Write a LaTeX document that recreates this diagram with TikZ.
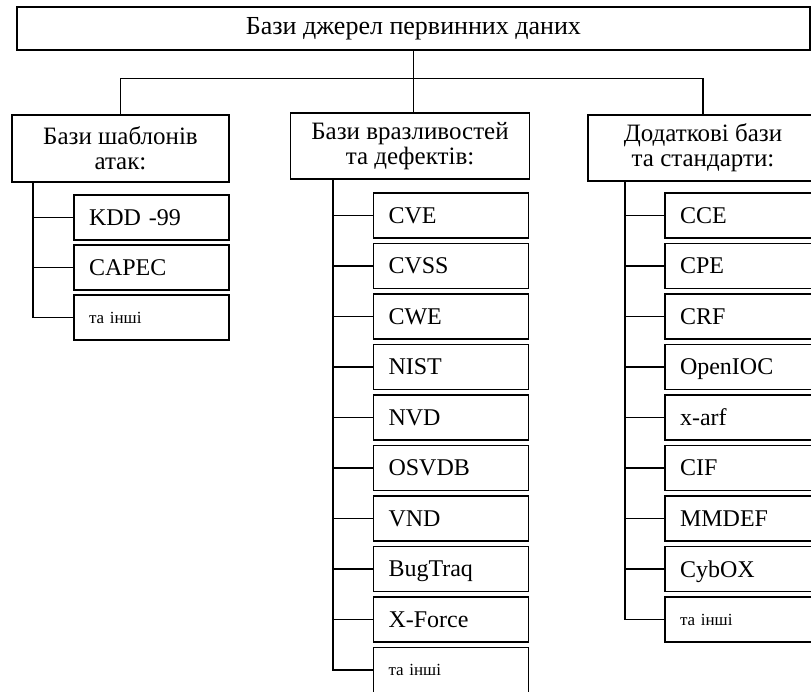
\documentclass[tikz,border=0pt]{standalone}
\usepackage{fontspec}
\setmainfont{Liberation Serif}
\usetikzlibrary{positioning}

\tikzset{
  base/.style={draw, line width=1.2pt, inner sep=0pt},
  hdr/.style={base, minimum height=66pt, align=center, font=\fontsize{25}{25}\selectfont},
  item/.style={base, minimum height=45pt, inner xsep=15pt, text width=125pt, text depth=0pt, align=left, font=\fontsize{24}{26}\selectfont},
  etc/.style={item, font=\fontsize{17}{20}\selectfont},
  link/.style={line width=1.2pt},
}

\begin{document}
\begin{tikzpicture}[x=1pt,y=-1pt]
            \clip (0,0) rectangle (811,691);

            % root
            \node[hdr, minimum width=793pt, minimum height=43pt, font=\fontsize{26}{28}\selectfont] (root) at (413.5,28.5) {Бази джерел первинних даних};

            % groups
            \node[hdr, minimum width=217pt, minimum height=67pt] (attacks) at (120.5,148.5) {Бази шаблонів\\атак:};
            \node[hdr, minimum width=239pt] (vulns) at (410,146) {Бази вразливостей\\та дефектів:};
            \node[hdr, minimum width=230pt] (extra) at (703,148) {Додаткові бази\\та стандарти:};

            % trunk
            \coordinate (split) at (413.5,78.5);
            \draw[link] (root.south) -- (split);
            \draw[link] (attacks.north) |- (split) -| (extra.north);
            \draw[link] (split) -- (split |- vulns.north);

            % bus tops
            \coordinate (lbus) at (33,182);
            \coordinate (mbus) at (333,179);
            \coordinate (rbus) at (625,181);

            % left list
            \foreach \name/\txt/\sty [count=\i from 0] in {kdd/KDD -99/item, capec/CAPEC/item, lother/та інші/etc}
            {
                \node[\sty] (\name) at (151.5,{217.5+50*\i}) {\txt};
                \draw[link] (lbus) |- (\name.west);
            }

            % middle list
            \foreach \name/\txt/\sty [count=\i from 0] in {cve/CVE/item, cvss/CVSS/item, cwe/CWE/item, nist/NIST/item, nvd/NVD/item, osvdb/OSVDB/item, vnd/VND/item, bugtraq/BugTraq/item, xforce/X-Force/item, mother/та інші/etc}
            {
                \node[\sty] (\name) at (451,{215.5+50.5*\i}) {\txt};
                \draw[link] (mbus) |- (\name.west);
            }

            % right list
            \foreach \name/\txt/\sty [count=\i from 0] in {cce/CCE/item, cpe/CPE/item, crf/CRF/item, openioc/OpenIOC/item, xarf/x-arf/item, cif/CIF/item, mmdef/MMDEF/item, cybox/CybOX/item, rother/та інші/etc}
            {
                \node[\sty] (\name) at (742.5,{215.5+50.5*\i}) {\txt};
                \draw[link] (rbus) |- (\name.west);
            }
        \end{tikzpicture}
\end{document}
